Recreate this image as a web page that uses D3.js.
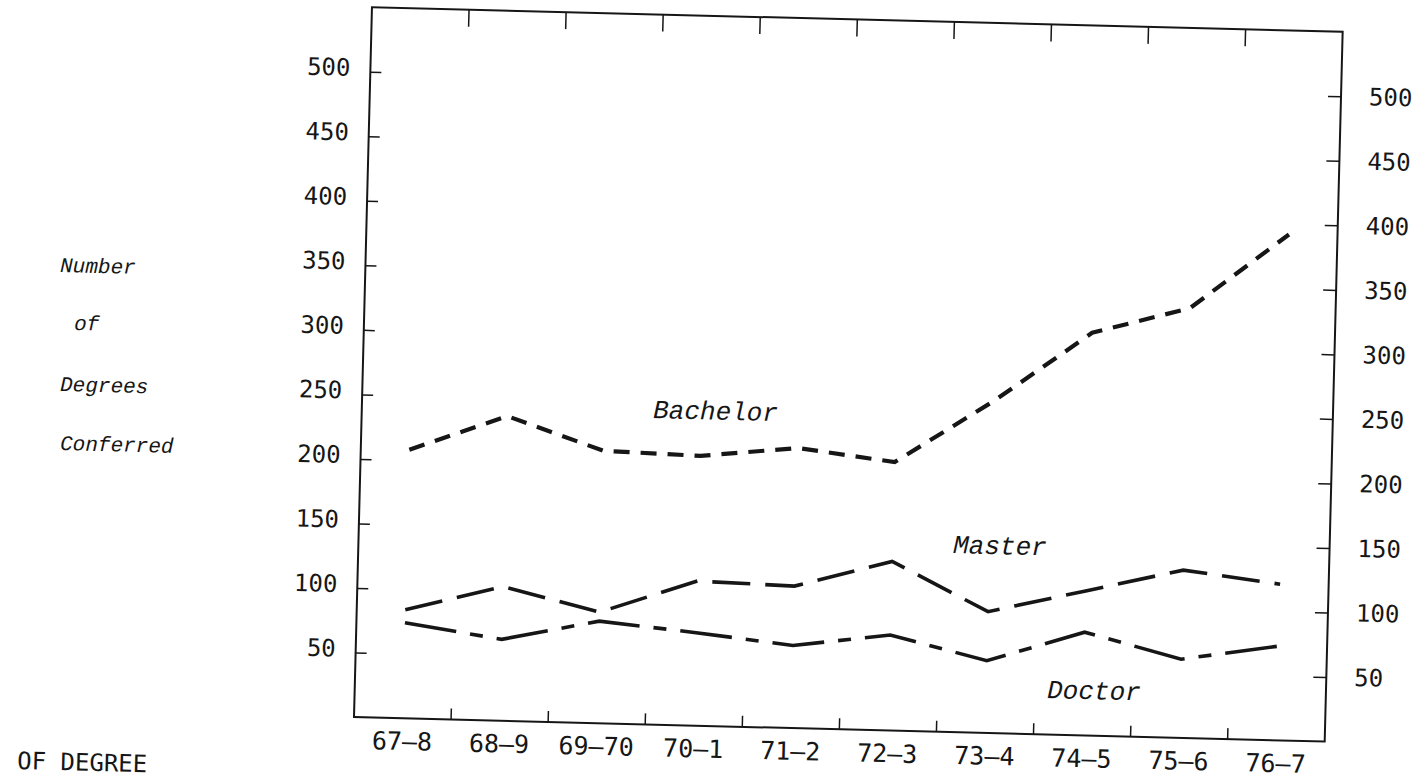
<!DOCTYPE html>
<html><head><meta charset="utf-8">
<script src="https://cdn.jsdelivr.net/npm/d3@7"></script>
<style>body{margin:0;background:#fff} svg{display:block;background:#fff}</style>
</head><body><svg id="c" width="1425" height="779"></svg>
<script>
// ---- data ----
const categories = ["67–8","68–9","69–70","70–1","71–2","72–3","73–4","74–5","75–6","76–7"];
const bachelor = [208,236,211,209,217,208,257,312,333,392];
const master   = [84,104,86,112,110,131,94,112,130,121];
const doctor   = [74,63,79,72,64,74,56,80,61,73];
const yTicks   = [50,100,150,200,250,300,350,400,450,500];
const seriesNames = ["Bachelor","Master","Doctor"];
const axisTitle = ["Number","of","Degrees","Conferred"];
const footer = "OF DEGREE";

// ---- layout ----
const x0 = 354, y0 = 717, W = 971, H = 710, angle = 1.45;
const rad = angle*Math.PI/180, cs = Math.cos(rad), sn = Math.sin(rad);
function toLocal(X, Y){ const dx=X-x0, dy=Y-y0; return [x0+dx*cs+dy*sn, y0-dx*sn+dy*cs]; }

const svg = d3.select("#c");
const g = svg.append("g").attr("transform",`rotate(${angle},${x0},${y0})`);

const x = d3.scaleBand().domain(categories).range([x0, x0+W]);
const y = d3.scaleLinear().domain([0,550]).range([y0, y0-H]);
const ink = "#161616";
const tickFont = "'DejaVu Sans Mono', monospace";
const itFont = "'Liberation Mono', 'Courier New', monospace";

// frame
g.append("rect").attr("x",x0).attr("y",y0-H).attr("width",W).attr("height",H)
 .attr("fill","none").attr("stroke",ink).attr("stroke-width",2);

// left axis
const la = g.append("g").attr("transform",`translate(${x0},0)`)
  .call(d3.axisLeft(y).tickValues(yTicks).tickSize(-11).tickPadding(20));
la.select(".domain").remove();
la.selectAll("line").attr("stroke",ink).attr("stroke-width",1.5);
la.selectAll("text").attr("font-family",tickFont).attr("font-size",24).attr("fill",ink).attr("dy","0.17em");

// right axis
const ra = g.append("g").attr("transform",`translate(${x0+W},0)`)
  .call(d3.axisRight(y).tickValues(yTicks).tickSize(-13).tickPadding(28));
ra.select(".domain").remove();
ra.selectAll("line").attr("stroke",ink).attr("stroke-width",1.5);
ra.selectAll("text").attr("font-family",tickFont).attr("font-size",24).attr("fill",ink);

// bottom labels
const ba = g.append("g").attr("transform",`translate(0,${y0})`)
  .call(d3.axisBottom(x).tickSize(0).tickPadding(14));
ba.select(".domain").remove();
ba.selectAll("text").attr("font-family",tickFont).attr("font-size",25).attr("fill",ink);

// boundary ticks top and bottom
const bounds = categories.slice(1).map(c => x(c));
g.selectAll(".bt").data(bounds).join("line").attr("class","bt")
 .attr("x1",d=>d).attr("x2",d=>d).attr("y1",y0).attr("y2",y0-11)
 .attr("stroke",ink).attr("stroke-width",1.5);
g.selectAll(".tt").data(bounds).join("line").attr("class","tt")
 .attr("x1",d=>d).attr("x2",d=>d).attr("y1",y0-H).attr("y2",y0-H+17)
 .attr("stroke",ink).attr("stroke-width",1.5);

// series
const line = d3.line().x((d,i)=>x(categories[i])+x.bandwidth()/2).y(d=>y(d));
const series = [
  {v:bachelor, dash:"16,11", w:4.2},
  {v:master,   dash:"38,15", w:3.6},
  {v:doctor,   dash:"52,14,13,14", w:3.6}
];
series.forEach(s=>{
  g.append("path").attr("d",line(s.v)).attr("fill","none").attr("stroke",ink)
   .attr("stroke-width",s.w).attr("stroke-dasharray",s.dash).attr("stroke-linecap","butt");
});

// series labels
const labelPos = [[653,418],[953,553],[1047,698]];
seriesNames.forEach((n,i)=>{
  const p = toLocal(labelPos[i][0], labelPos[i][1]);
  g.append("text").attr("x",p[0]).attr("y",p[1]).text(n)
   .attr("font-family",itFont).attr("font-style","italic").attr("font-size",26).attr("fill",ink);
});

// axis title
const titlePos = [[60,272],[74,330],[60,391],[60,450]];
axisTitle.forEach((t,i)=>{
  const p = toLocal(titlePos[i][0], titlePos[i][1]);
  g.append("text").attr("x",p[0]).attr("y",p[1]).text(t)
   .attr("font-family",itFont).attr("font-style","italic").attr("font-size",21).attr("fill",ink);
});

// footer fragment
const fp = toLocal(17,769);
g.append("text").attr("x",fp[0]).attr("y",fp[1]).text(footer)
 .attr("font-family",tickFont).attr("font-size",24).attr("fill",ink);
</script>
</body></html>
